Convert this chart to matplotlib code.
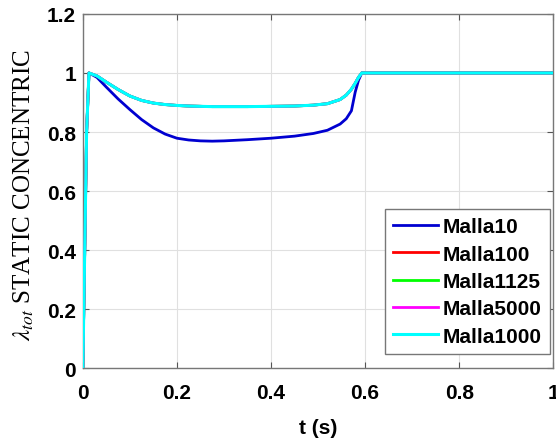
import matplotlib

matplotlib.use("Agg")
import matplotlib.pyplot as plt

# time axis (s) and lambda_tot
t = [0, 0.003, 0.008, 0.013, 0.03, 0.05, 0.075, 0.1, 0.125, 0.15, 0.175,
     0.2, 0.225, 0.25, 0.275, 0.3, 0.35, 0.4, 0.45, 0.49, 0.52, 0.547,
     0.56, 0.571, 0.579, 0.586, 0.593, 0.6, 0.7, 0.8, 0.9, 1.0]

malla10 = [0, 0.3, 0.8, 1.0, 0.985, 0.952, 0.912, 0.876, 0.842, 0.814, 0.793,
           0.779, 0.773, 0.770, 0.769, 0.770, 0.774, 0.779, 0.786, 0.795, 0.806,
           0.827, 0.845, 0.872, 0.935, 0.975, 1.0, 1.0, 1.0, 1.0, 1.0, 1.0]
malla1000 = [0, 0.3, 0.8, 1.0, 0.99, 0.969, 0.944, 0.922, 0.907, 0.898, 0.893,
             0.890, 0.888, 0.887, 0.886, 0.886, 0.886, 0.887, 0.888, 0.891, 0.896,
             0.910, 0.925, 0.945, 0.965, 0.985, 1.0, 1.0, 1.0, 1.0, 1.0, 1.0]
# the other meshes lie under the Malla1000 curve
malla100 = malla1000
malla1125 = malla1000
malla5000 = malla1000

series = [
    ("Malla10", malla10, "#0000d0"),
    ("Malla100", malla100, "#ff0000"),
    ("Malla1125", malla1125, "#00ff00"),
    ("Malla5000", malla5000, "#ff00ff"),
    ("Malla1000", malla1000, "#00ffff"),
]

xticks = [0, 0.2, 0.4, 0.6, 0.8, 1]
xticklabels = ["0", "0.2", "0.4", "0.6", "0.8", "1"]
yticks = [0, 0.2, 0.4, 0.6, 0.8, 1, 1.2]
yticklabels = ["0", "0.2", "0.4", "0.6", "0.8", "1", "1.2"]

plt.rcParams["font.family"] = ["Liberation Sans", "DejaVu Sans"]
plt.rcParams["mathtext.fontset"] = "stix"

fig = plt.figure(figsize=(5.56, 4.39), dpi=100)
ax = fig.add_axes([0.149, 0.159, 0.846, 0.807])

# draw Malla1000 last so it sits on top like in the original
order = [1, 2, 3, 0, 4]
for i in order:
    name, vals, color = series[i]
    lw = 2.2 if i == 4 else 2.0
    ax.plot(t, vals, color=color, lw=lw, label=name, zorder=2 + i)

ax.set_xlim(0, 1)
ax.set_ylim(0, 1.2)
ax.set_xticks(xticks)
ax.set_xticklabels(xticklabels, fontsize=15, fontweight="bold")
ax.set_yticks(yticks)
ax.set_yticklabels(yticklabels, fontsize=15, fontweight="bold")
ax.grid(True, color="#e0e0e0", lw=0.8)
ax.tick_params(direction="in", top=True, right=True, length=4, color="#555555")
ax.tick_params(axis="x", pad=11)
ax.tick_params(axis="y", pad=5)
for sp in ax.spines.values():
    sp.set_color("#777777")
    sp.set_linewidth(1.0)

ax.set_xlabel("t (s)", fontsize=15, fontweight="bold")
ax.xaxis.set_label_coords(0.5, -0.14)
ax.set_ylabel(r"$\lambda_{tot}$ STATIC CONCENTRIC", fontsize=18,
              family=["Liberation Serif", "DejaVu Serif"])
ax.yaxis.set_label_coords(-0.1, 0.49)

handles, labels = ax.get_legend_handles_labels()
lookup = dict(zip(labels, handles))
names = [s[0] for s in series]
leg = ax.legend([lookup[n] for n in names], names, loc="lower right",
                bbox_to_anchor=(0.994, 0.04), borderaxespad=0,
                prop={"weight": "bold", "size": 15}, fancybox=False,
                edgecolor="#777777", framealpha=1, handlelength=2.15,
                handletextpad=0.25, borderpad=0.4, labelspacing=0.4)
leg.get_frame().set_linewidth(1.0)

fig.savefig("out.png", dpi=100)
